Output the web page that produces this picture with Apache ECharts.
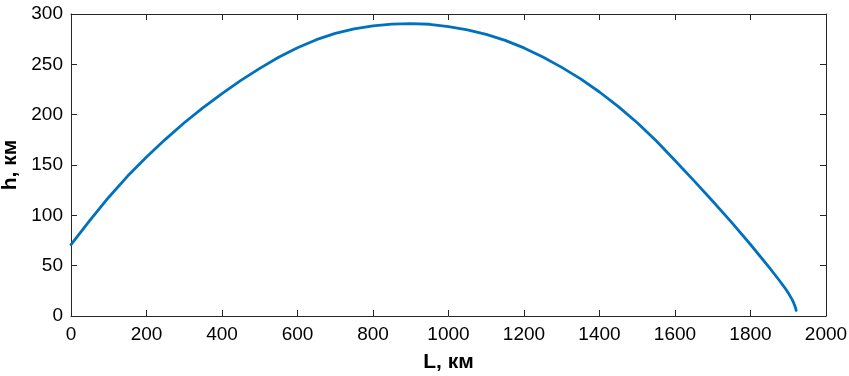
<!DOCTYPE html>
<html>
<head>
<meta charset="utf-8">
<script src="https://cdn.jsdelivr.net/npm/echarts@6/dist/echarts.min.js"></script>
<style>
html, body { margin: 0; padding: 0; background: #fff; }
#chart { width: 849px; height: 376px; }
</style>
</head>
<body>
<div id="chart"></div>
<script>
// дальность, км
var distKm = [0, 50, 100, 150, 200, 250, 300, 350, 400, 450, 500, 550, 600, 650, 700, 750, 800, 850, 900, 950,
    1000, 1050, 1100, 1150, 1200, 1250, 1300, 1350, 1400, 1450, 1500, 1550, 1600, 1650, 1700, 1750, 1800, 1850,
    1875, 1890, 1900, 1910, 1915, 1919, 1921];
// высота, км
var heightKm = [71, 95, 118, 139, 158, 175.5, 192, 207, 221, 234, 246, 257, 266.5, 274.5, 280.8, 285.3, 288.3, 290, 290.5, 289.8,
    287.5, 284.3, 279.8, 273.8, 266.3, 257.3, 247, 235.5, 222.5, 208, 192, 174, 154.5, 134.5, 114, 93, 71, 48,
    36, 28.5, 23, 16.5, 12.5, 8.5, 5.5];
var xTicks = [0, 200, 400, 600, 800, 1000, 1200, 1400, 1600, 1800, 2000];
var yTicks = [0, 50, 100, 150, 200, 250, 300];

var myChart = echarts.init(document.getElementById('chart'));

var pts = distKm.map(function (d, i) { return [d, heightKm[i]]; });
var axisColor = '#262626';
var font = 'Liberation Sans, Arial, sans-serif';
var plain = function (v) { return String(v); };

var option = {
    animation: false,
    backgroundColor: '#fff',
    grid: {
        left: 71, right: 23, top: 14, bottom: 60,
        containLabel: false, outerBoundsMode: 'none'
    },
    xAxis: [{
        type: 'value', min: xTicks[0], max: xTicks[xTicks.length - 1], interval: 200,
        name: 'L, км', nameLocation: 'middle', nameGap: 36,
        nameTextStyle: { fontFamily: font, fontSize: 21, fontWeight: 'bold', color: '#000' },
        axisLine: { show: true, onZero: false, lineStyle: { color: axisColor } },
        axisTick: { show: true, inside: true, length: 6, lineStyle: { color: axisColor } },
        axisLabel: { margin: 9, fontFamily: font, fontSize: 19, color: '#000', formatter: plain },
        splitLine: { show: false }
    }, {
        type: 'value', position: 'top', min: 0, max: 2000, interval: 200,
        axisLine: { show: true, onZero: false, lineStyle: { color: axisColor } },
        axisTick: { show: true, inside: true, length: 6, lineStyle: { color: axisColor } },
        axisLabel: { show: false }, splitLine: { show: false }
    }],
    yAxis: [{
        type: 'value', min: yTicks[0], max: yTicks[yTicks.length - 1], interval: 50,
        name: 'h, км', nameLocation: 'middle', nameGap: 48, nameRotate: 90,
        nameTextStyle: { fontFamily: font, fontSize: 21, fontWeight: 'bold', color: '#000' },
        axisLine: { show: true, onZero: false, lineStyle: { color: axisColor } },
        axisTick: { show: true, inside: true, length: 6, lineStyle: { color: axisColor } },
        axisLabel: { margin: 8, fontFamily: font, fontSize: 19, color: '#000', formatter: plain },
        splitLine: { show: false }
    }, {
        type: 'value', position: 'right', min: 0, max: 300, interval: 50,
        axisLine: { show: true, onZero: false, lineStyle: { color: axisColor } },
        axisTick: { show: true, inside: true, length: 6, lineStyle: { color: axisColor } },
        axisLabel: { show: false }, splitLine: { show: false }
    }],
    series: [{
        type: 'line',
        data: pts,
        xAxisIndex: 0, yAxisIndex: 0,
        smooth: false,
        showSymbol: false,
        lineStyle: { color: '#0072BD', width: 2.8, cap: 'round', join: 'round' }
    }]
};

myChart.setOption(option);
</script>
</body>
</html>
